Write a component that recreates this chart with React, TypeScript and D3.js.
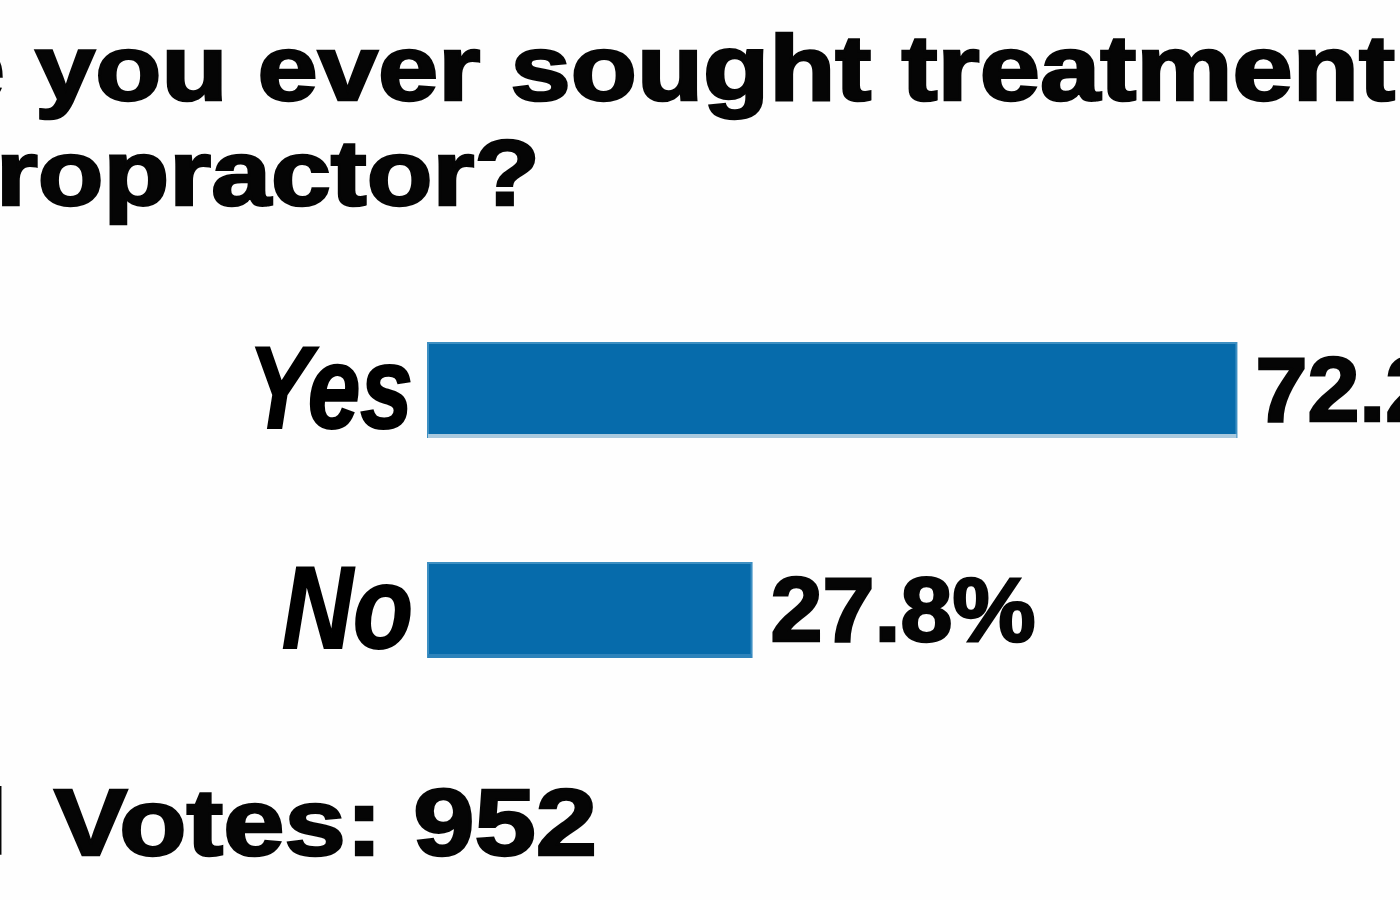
import React from "react";
import * as d3 from "d3";

const categories: string[] = ["Yes", "No"];
const percents: number[] = [72.2, 27.8];
const valueLabels: string[] = ["72.2%", "27.8%"];
const titleLine1Hidden = "Have";
const titleLine1 = "you ever sought treatment";
const titleLine2Hidden = "chi";
const titleLine2 = "ropractor?";
const totalHidden = "Total";
const totalLabel = "Votes: 952";

const W = 1400;
const H = 900;

export default function App() {
  const x = d3.scaleLinear().domain([0, 100]).range([448, 1540]);
  const y = d3.scalePoint<string>().domain(categories).range([390, 610]);
  const barH = 94;
  const barX0 = 428;
  const labelLens: Record<string, number> = { Yes: 165, No: 131 };

  const titleFont = "'Liberation Sans', Arial, sans-serif";

  return (
    <svg
      width={W}
      height={H}
      style={{ position: "absolute", left: 0, top: 0, background: "#fff" }}
    >
      <rect x={0} y={0} width={W} height={H} fill="#fefefe" />
      {/* Title */}
      <g fontFamily={titleFont} fontWeight={900} fill="#050505">
        <text x={6} y={100} fontSize={92} textAnchor="end">
          {titleLine1Hidden}
        </text>
        <text
          x={35}
          y={100}
          fontSize={92}
          textLength={1360}
          lengthAdjust="spacingAndGlyphs"
          stroke="#050505"
          strokeWidth={2.5}
        >
          {titleLine1}
        </text>
        <text x={-4} y={205} fontSize={92} textAnchor="end">
          {titleLine2Hidden}
        </text>
        <text
          x={-4}
          y={205}
          fontSize={92}
          textLength={544}
          lengthAdjust="spacingAndGlyphs"
          stroke="#050505"
          strokeWidth={2.5}
        >
          {titleLine2}
        </text>
      </g>

      {/* Bars */}
      {categories.map((c, i) => {
        const cy = y(c) as number;
        const xEnd = x(percents[i]);
        return (
          <g key={c}>
            <rect
              x={barX0}
              y={cy - barH / 2}
              width={xEnd - barX0}
              height={barH}
              fill="#066bab"
              stroke="#3d8fc2"
              strokeWidth={2}
            />
            <rect
              x={barX0}
              y={cy + barH / 2 - 3}
              width={xEnd - barX0}
              height={4}
              fill={i === 0 ? "#a9c9de" : "#2d83bb"}
            />
            <text
              x={413}
              y={cy + 38}
              fontFamily={titleFont}
              fontWeight={900}
              fontStyle="italic"
              fontSize={116}
              textAnchor="end"
              textLength={labelLens[c]}
              lengthAdjust="spacingAndGlyphs"
              fill="#000"
              stroke="#000"
              strokeWidth={2}
            >
              {c}
            </text>
            <text
              x={xEnd + 19}
              y={cy + 31}
              fontFamily={titleFont}
              fontWeight={900}
              fontSize={90}
              textLength={265}
              lengthAdjust="spacingAndGlyphs"
              fill="#050505"
              stroke="#050505"
              strokeWidth={2.5}
            >
              {valueLabels[i]}
            </text>
          </g>
        );
      })}

      {/* Total votes */}
      <g fontFamily={titleFont} fontWeight={900} fill="#050505">
        <text x={8} y={855} fontSize={94} textAnchor="end">
          {totalHidden}
        </text>
        <text
          x={54}
          y={855}
          fontSize={94}
          textLength={543}
          lengthAdjust="spacingAndGlyphs"
          stroke="#050505"
          strokeWidth={2.5}
        >
          {totalLabel}
        </text>
      </g>
    </svg>
  );
}
